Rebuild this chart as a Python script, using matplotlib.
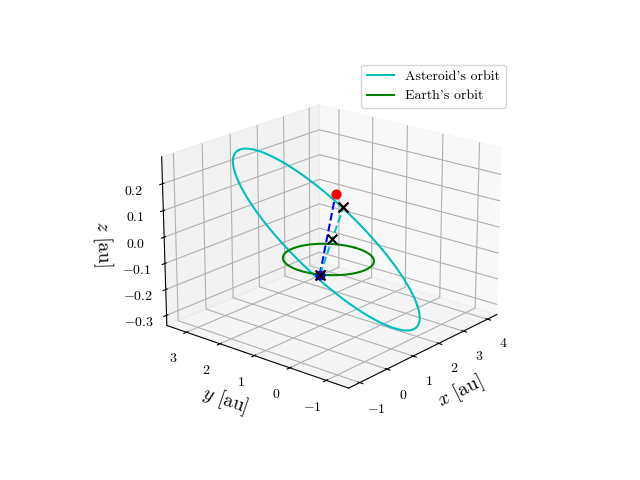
import matplotlib
matplotlib.use("Agg")
import matplotlib.pyplot as plt
import numpy as np

plt.rcParams['font.family'] = 'serif'
plt.rcParams['font.serif'] = ['cmr10']
plt.rcParams['mathtext.fontset'] = 'cm'
plt.rcParams['axes.formatter.use_mathtext'] = True

# asteroid orbit: centre and two semi-axis vectors (au)
ast_centre = [1.4, 1.1, -0.02]
ast_axis_a = [1.55, -1.45, -0.27]
ast_axis_b = [1.97, 1.97, 0.07]
earth_radius = 1.0

earth_pos = [-0.9, -0.45, 0.0]
ast_pos = [3.6, 2.5, 0.01]
ast_proj = [3.83, 2.44, -0.05]
mid_pos = [1.45, 1.0, -0.025]

th = np.linspace(0, 2*np.pi, 400)
c = np.array(ast_centre)[:, None]
A = np.array(ast_axis_a)[:, None]
B = np.array(ast_axis_b)[:, None]
orb = c + A*np.cos(th) + B*np.sin(th)

fig = plt.figure(figsize=(6.4, 4.8))
ax = fig.add_subplot(projection='3d')
ax.plot(orb[0], orb[1], orb[2], 'c', label="Asteroid's orbit")
ax.plot(earth_radius*np.cos(th), earth_radius*np.sin(th), 0*th, 'g', label="Earth's orbit")
ax.plot([earth_pos[0], ast_pos[0]], [earth_pos[1], ast_pos[1]], [earth_pos[2], ast_pos[2]], 'b--')
ax.plot([earth_pos[0], ast_proj[0]], [earth_pos[1], ast_proj[1]], [earth_pos[2], ast_proj[2]], 'c--')
ax.scatter(*ast_pos, color='r', s=40)
ax.scatter(*earth_pos, color='b', s=40)
for p in [earth_pos, ast_proj]:
    ax.scatter(*p, color='r', marker='x', s=50)
    ax.scatter(*p, color='k', marker='x', s=50)
ax.scatter(*mid_pos, color='k', marker='x', s=50)

ax.set_xlim(-1.4, 4.4)
ax.set_ylim(-1.6, 3.6)
ax.set_xticks([-1, 0, 1, 2, 3, 4])
ax.set_yticks([-1, 0, 1, 2, 3])
ax.set_zticks([-0.3, -0.2, -0.1, 0.0, 0.1, 0.2])
ax.set_xlabel(r'$x$ [au]', fontsize=14)
ax.set_ylabel(r'$y$ [au]', fontsize=14)
ax.set_zlabel(r'$z$ [au]', fontsize=14)
ax.view_init(elev=20, azim=-140)
ax.legend(loc='upper right')
fig.savefig('out.png', dpi=100)
